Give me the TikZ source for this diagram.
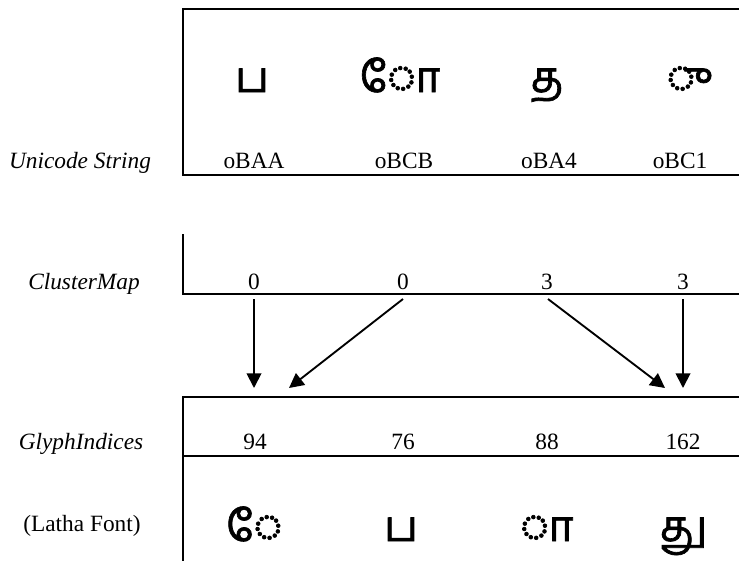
\documentclass[tikz,border=0pt]{standalone}
\usepackage{fontspec}
\setmainfont{Liberation Serif}
\newfontfamily\tamil[Script=Tamil,FakeBold=1.5]{Hind Madurai}
\usetikzlibrary{arrows.meta}
\begin{document}
\begin{tikzpicture}[x=0.75pt,y=-0.75pt,
  frame/.style={line width=1.5pt},
  link/.style={line width=1.4pt,-{Triangle[length=11pt,width=11pt]}},
  lbl/.style={font=\itshape\fontsize{17.5}{20}\selectfont, anchor=base, inner sep=0pt},
  val/.style={font=\fontsize{17.5}{20}\selectfont, anchor=base, inner sep=0pt},
  glyph/.style={font=\tamil\fontsize{32}{36}\selectfont, anchor=base, inner sep=0pt}]
\useasboundingbox (0,0) rectangle (739,561);
% frames
\draw[frame] (739,9) -| (183,175) -- (739,175);
\draw[frame] (183,234) |- (739,294);
\draw[frame] (739,397) -| (183,561);
\draw[frame] (183,456) -- (739,456);
% Unicode row
\node[glyph] (u1) at (252,92) {ப};
\node[glyph] (u2) at (400,92) {◌ோ};
\node[glyph] (u3) at (547,92) {த};
\node[glyph] (u4) at (681,92) {◌ு};
\node[val] (h1) at (254,168) {oBAA};
\node[val] (h2) at (404,168) {oBCB};
\node[val] (h3) at (549,168) {oBA4};
\node[val] (h4) at (680,168) {oBC1};
\node[lbl] (lu) at (80,168) {Unicode String};
% ClusterMap
\node[lbl] (lc) at (84,289) {ClusterMap};
\node[val] (c1) at (254,289) {0};
\node[val] (c2) at (403,289) {0};
\node[val] (c3) at (547,289) {3};
\node[val] (c4) at (683,289) {3};
% GlyphIndices
\node[lbl] (lg) at (81,449) {GlyphIndices};
\node[val] (g1) at (255,449) {94};
\node[val] (g2) at (403,449) {76};
\node[val] (g3) at (547,449) {88};
\node[val] (g4) at (683,449) {162};
% Latha row
\node[val] (ll) at (82,531) {(Latha Font)};
\node[glyph] (l1) at (254,541) {◌ே};
\node[glyph] (l2) at (401,541) {ப};
\node[glyph] (l3) at (547,541) {◌ா};
\node[glyph] (l4) at (683,541) {து};
% arrows
\coordinate (s1) at (254,299); \coordinate (e1) at (254,388);
\coordinate (s2) at (403,299); \coordinate (e2) at (289,388);
\coordinate (s3) at (548,299); \coordinate (e3) at (665,388);
\coordinate (s4) at (683,299); \coordinate (e4) at (683,388);
\draw[link] (s1) -- (e1);
\draw[link] (s2) -- (e2);
\draw[link] (s3) -- (e3);
\draw[link] (s4) -- (e4);
\end{tikzpicture}
\end{document}
